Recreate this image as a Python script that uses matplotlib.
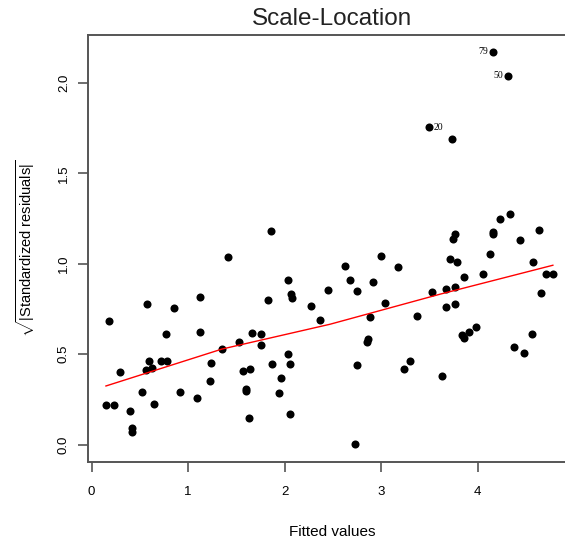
import numpy as np
import matplotlib
matplotlib.use("Agg")
import matplotlib.pyplot as plt

plt.rcParams['font.family'] = ['Liberation Sans', 'DejaVu Sans']
plt.rcParams['mathtext.fontset'] = 'custom'
plt.rcParams['mathtext.rm'] = 'Liberation Sans'
plt.rcParams['mathtext.it'] = 'Liberation Sans:italic'

# fitted values and sqrt(|standardized residuals|)
fitted = [
    4.155, 4.311, 3.498, 3.737,
    1.855, 1.409, 2.031, 0.570, 0.856, 1.119, 1.827, 2.068, 2.079, 2.273,
    2.449, 2.369, 0.179, 0.773, 1.119, 1.664, 1.758, 1.526, 1.350, 1.751,
    0.597, 0.715, 0.783, 0.563, 0.622, 1.233, 0.290, 1.571, 1.644, 1.868,
    2.031, 2.052, 1.959, 1.229, 0.518, 0.912, 1.596, 1.604, 1.938, 0.649,
    1.091, 0.148, 0.231, 0.394, 0.418, 0.415, 1.630, 2.055,
    4.338, 4.231, 4.155, 4.162, 3.765, 3.747, 4.635, 4.438, 4.124, 3.001,
    2.625, 3.177, 3.716, 3.782, 4.573, 3.858, 4.052, 4.705, 4.783, 2.677,
    2.918, 2.752, 3.526, 3.672, 3.762, 4.659, 3.039, 3.668, 3.765, 2.884,
    3.368, 3.840, 3.858, 3.913, 3.979, 2.860, 2.850, 4.560, 4.379, 4.480,
    2.746, 3.298, 3.239, 3.627, 2.732,
]
sqrt_std_resid = [
    2.172, 2.038, 1.754, 1.690,
    1.181, 1.036, 0.910, 0.776, 0.756, 0.815, 0.800, 0.831, 0.811, 0.765,
    0.854, 0.691, 0.682, 0.614, 0.622, 0.618, 0.612, 0.566, 0.529, 0.553,
    0.465, 0.463, 0.463, 0.415, 0.426, 0.454, 0.404, 0.408, 0.419, 0.448,
    0.502, 0.446, 0.367, 0.352, 0.290, 0.290, 0.310, 0.299, 0.285, 0.227,
    0.259, 0.222, 0.222, 0.187, 0.091, 0.069, 0.146, 0.172,
    1.277, 1.248, 1.174, 1.163, 1.163, 1.135, 1.187, 1.131, 1.052, 1.043,
    0.990, 0.981, 1.025, 1.010, 1.012, 0.925, 0.942, 0.945, 0.942, 0.909,
    0.901, 0.850, 0.843, 0.859, 0.873, 0.837, 0.785, 0.761, 0.776, 0.704,
    0.710, 0.607, 0.588, 0.625, 0.649, 0.583, 0.566, 0.614, 0.539, 0.506,
    0.441, 0.465, 0.420, 0.382, 0.003,
]

# labelled observations (index into the arrays above, label, side)
flag_idx = [0, 1, 2]
flag_txt = ['79', '50', '20']
flag_side = ['left', 'left', 'right']

# red smoother
smooth_x = [0.148, 1.351, 2.470, 3.610, 4.780]
smooth_y = [0.325, 0.529, 0.666, 0.832, 0.992]

fig = plt.figure(figsize=(5.65, 5.4), dpi=100)
ax = fig.add_axes([88 / 565, 78 / 540, 489 / 565, 427 / 540])

ax.plot(fitted, sqrt_std_resid, 'o', color='black', markersize=5.8, markeredgewidth=0)
ax.plot(smooth_x, smooth_y, color='red', lw=1.0)

for i, t, side in zip(flag_idx, flag_txt, flag_side):
    dx = -3 if side == 'left' else 3
    ax.annotate(t, (fitted[i], sqrt_std_resid[i]), xytext=(dx, 0), textcoords='offset points',
                ha='right' if side == 'left' else 'left', va='center',
                fontsize=7, family=['Liberation Serif', 'DejaVu Serif'])

ax.set_xlim(-0.038, 5.03)
ax.set_ylim(-0.095, 2.264)
ax.set_xticks([0, 1, 2, 3, 4])
ax.set_yticks([0.0, 0.5, 1.0, 1.5, 2.0])
ax.set_yticklabels(['0.0', '0.5', '1.0', '1.5', '2.0'], rotation=90, va='center')

for s in ax.spines.values():
    s.set_color('#555555')
    s.set_linewidth(1.4)
ax.tick_params(direction='out', length=7, width=1.2, color='#555555', labelsize=9.5)
ax.tick_params(axis='x', pad=10)
ax.tick_params(axis='y', pad=6)

ax.set_title('Scale-Location', fontsize=17.5, color='#222222', pad=7)
ax.set_xlabel('Fitted values', fontsize=11)
ax.set_ylabel(r'$\sqrt{|\mathrm{Standardized\ residuals}|}$', fontsize=10.5)
ax.xaxis.set_label_coords(0.5, -0.147)
ax.yaxis.set_label_coords(-0.104, 0.5)

fig.savefig('out.png', dpi=100)
